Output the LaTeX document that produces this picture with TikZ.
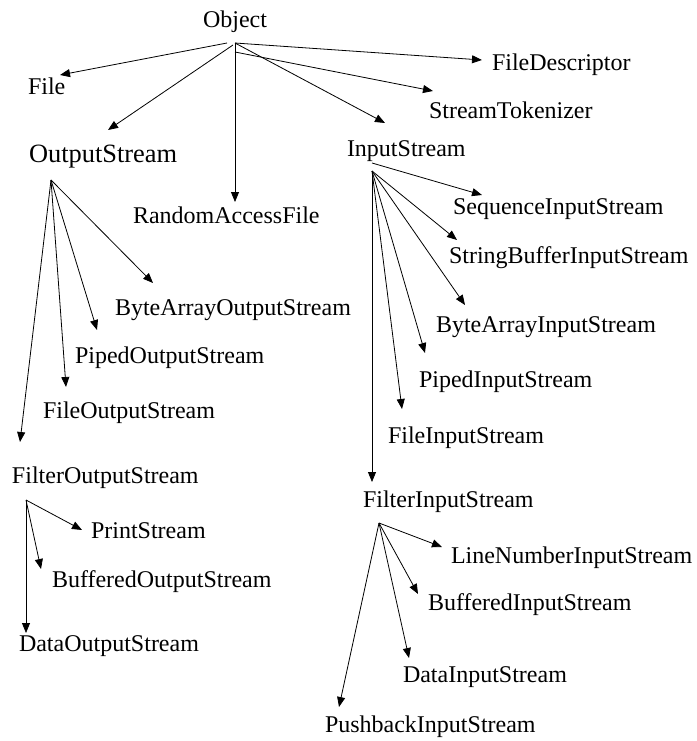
\documentclass[tikz,border=0pt]{standalone}
\usepackage{fontspec}
\setmainfont{Liberation Serif}
\usetikzlibrary{arrows.meta}
\begin{document}
\begin{tikzpicture}[x=1pt,y=-1pt,
  lbl/.style={anchor=base west,inner sep=0pt,outer sep=0pt,font=\fontsize{24}{28}\selectfont},
  biglbl/.style={lbl,font=\fontsize{26.4}{30}\selectfont},
  arr/.style={line width=0.8pt,-{Triangle[length=10pt,width=8pt]}}]
\useasboundingbox (0,0) rectangle (696,741);
% nodes
\node[lbl] (obj) at (203,28) {Object};
\node[lbl] (file) at (28,95) {File};
\node[lbl] (fdesc) at (492,71) {FileDescriptor};
\node[lbl] (stok) at (429,118) {StreamTokenizer};
\node[biglbl] (os) at (29,162) {OutputStream};
\node[lbl] (is) at (347,156) {InputStream};
\node[lbl] (raf) at (133,223) {RandomAccessFile};
\node[lbl] (baos) at (115,315) {ByteArrayOutputStream};
\node[lbl] (pos) at (75,363) {PipedOutputStream};
\node[lbl] (fos) at (43,418) {FileOutputStream};
\node[lbl] (filos) at (12,483) {FilterOutputStream};
\node[lbl] (ps) at (91,538) {PrintStream};
\node[lbl] (bos) at (52,587) {BufferedOutputStream};
\node[lbl] (dos) at (19,651) {DataOutputStream};
\node[lbl] (sis) at (453,214) {SequenceInputStream};
\node[lbl] (sbis) at (449,263) {StringBufferInputStream};
\node[lbl] (bais) at (436,332) {ByteArrayInputStream};
\node[lbl] (pis) at (419,387) {PipedInputStream};
\node[lbl] (fis) at (388,443) {FileInputStream};
\node[lbl] (filis) at (363,507) {FilterInputStream};
\node[lbl] (lnis) at (451,563) {LineNumberInputStream};
\node[lbl] (bis) at (428,610) {BufferedInputStream};
\node[lbl] (dis) at (403,682) {DataInputStream};
\node[lbl] (pbis) at (325,732) {PushbackInputStream};
% origins
\coordinate (objA) at (235,43);
\coordinate (objB) at (227,43);
\coordinate (objC) at (233,45);
\coordinate (objD) at (235,52);
\coordinate (osA) at (51,180);
\coordinate (isA) at (372,163);
\coordinate (isB) at (372,171);
\coordinate (filosA) at (26,500);
\coordinate (filisA) at (379,523);
% tips
\coordinate (tfile) at (60,75);
\coordinate (tos) at (108,130);
\coordinate (traf) at (235,202);
\coordinate (tfdesc) at (482,60);
\coordinate (tstok) at (433,91);
\coordinate (tis) at (385,123);
\coordinate (tbaos) at (153,283);
\coordinate (tpos) at (97,330);
\coordinate (tfos) at (66,387);
\coordinate (tfilos) at (20,442);
\coordinate (tps) at (82,530);
\coordinate (tbos) at (41,569);
\coordinate (tdos) at (26,633);
\coordinate (tsis) at (482,195);
\coordinate (tsbis) at (457,240);
\coordinate (tbais) at (465,305);
\coordinate (tpis) at (425,353);
\coordinate (tfis) at (402,409);
\coordinate (tfilis) at (372,482);
\coordinate (tlnis) at (442,547);
\coordinate (tbis) at (418,594);
\coordinate (tdis) at (409,658);
\coordinate (tpbis) at (339,707);
% connectors
\draw[arr] (objB) -- (tfile);
\draw[arr] (objC) -- (tos);
\draw[arr] (objA) -- (traf);
\draw[arr] (objA) -- (tfdesc);
\draw[arr] (objD) -- (tstok);
\draw[arr] (objA) -- (tis);
\draw[arr] (osA) -- (tbaos);
\draw[arr] (osA) -- (tpos);
\draw[arr] (osA) -- (tfos);
\draw[arr] (osA) -- (tfilos);
\draw[arr] (filosA) -- (tps);
\draw[arr] (filosA) -- (tbos);
\draw[arr] (filosA) -- (tdos);
\draw[arr] (isA) -- (tsis);
\draw[arr] (isB) -- (tsbis);
\draw[arr] (isB) -- (tbais);
\draw[arr] (isB) -- (tpis);
\draw[arr] (isB) -- (tfis);
\draw[arr] (isB) -- (tfilis);
\draw[arr] (filisA) -- (tlnis);
\draw[arr] (filisA) -- (tbis);
\draw[arr] (filisA) -- (tdis);
\draw[arr] (filisA) -- (tpbis);
\end{tikzpicture}
\end{document}
